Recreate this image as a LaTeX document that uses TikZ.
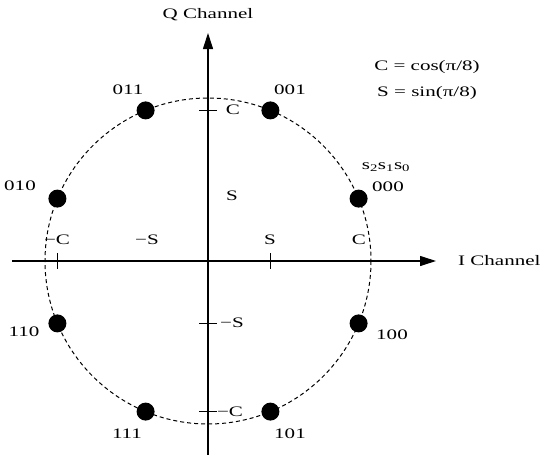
\documentclass[tikz,border=0pt]{standalone}
\usepackage{fontspec}
\setmainfont{Liberation Serif}[FakeStretch=1.45]
\usetikzlibrary{arrows.meta}
\begin{document}
\begin{tikzpicture}[x=1pt,y=-1pt,
  lbl/.style={inner sep=0pt, font=\fontsize{14.5}{16}\selectfont},
  pt/.style={circle, fill=black, inner sep=0pt, minimum size=18pt},
  axis/.style={line width=1.1pt, -{Triangle[length=16pt,width=10pt]}},
  tickmark/.style={line width=1pt},
  ring/.style={dash pattern=on 4pt off 3pt, line width=1pt}]
\useasboundingbox (0,0) rectangle (544,455);
\coordinate (O) at (208,261);
\coordinate (xl) at (12,261);
\coordinate (xr) at (436,261);
\coordinate (yb) at (208,455);
\coordinate (yt) at (208,33);
% circle
\draw[ring] (O) circle[radius=163];
% axes
\draw[axis] (xl) -- (xr);
\draw[axis] (yb) -- (yt);
% ticks on I axis
\coordinate (tmC) at (57.4,261);
\coordinate (tS) at (270.4,261);
\draw[tickmark] ([yshift=8pt]tmC) -- ([yshift=-8pt]tmC);
\draw[tickmark] ([yshift=8pt]tS) -- ([yshift=-8pt]tS);
% ticks on Q axis
\coordinate (qC) at (208,110.4);
\coordinate (qmS) at (208,323.4);
\coordinate (qmC) at (208,411.6);
\draw[tickmark] ([xshift=-9pt]qC) -- ([xshift=9pt]qC);
\draw[tickmark] ([xshift=-9pt]qmS) -- ([xshift=9pt]qmS);
\draw[tickmark] ([xshift=-9pt]qmC) -- ([xshift=9pt]qmC);
% points
\node[pt] (p000) at (358.6,198.6) {};
\node[pt] (p001) at (270.4,110.4) {};
\node[pt] (p011) at (145.6,110.4) {};
\node[pt] (p010) at (57.4,198.6) {};
\node[pt] (p110) at (57.4,323.4) {};
\node[pt] (p111) at (145.6,411.6) {};
\node[pt] (p101) at (270.4,411.6) {};
\node[pt] (p100) at (358.6,323.4) {};
% point labels
\node[lbl] (l000) at (388,187) {000};
\node[lbl] (lsss) at (386,167) {s\textsubscript{2}s\textsubscript{1}s\textsubscript{0}};
\node[lbl] (l001) at (290,90) {001};
\node[lbl] (l011) at (128,90) {011};
\node[lbl] (l010) at (20,186) {010};
\node[lbl] (l110) at (24,332) {110};
\node[lbl] (l111) at (127,434) {111};
\node[lbl] (l101) at (290,434) {101};
\node[lbl] (l100) at (392,335) {100};
% axis value labels
\node[lbl] (vmC) at (57,240) {−C};
\node[lbl] (vmS) at (147,240) {−S};
\node[lbl] (vS) at (270,240) {S};
\node[lbl] (vC) at (359,240) {C};
\node[lbl] (wC) at (233,110) {C};
\node[lbl] (wS) at (232,196) {S};
\node[lbl] (wmS) at (232,323) {−S};
\node[lbl] (wmC) at (230,412) {−C};
% axis titles
\node[lbl] (qlab) at (208,15) {Q Channel};
\node[lbl, anchor=west] (ilab) at (458,261) {I Channel};
% definitions
\node[lbl] (defC) at (427,67) {C = cos(π/8)};
\node[lbl] (defS) at (427,93) {S = sin(π/8)};
\end{tikzpicture}
\end{document}
